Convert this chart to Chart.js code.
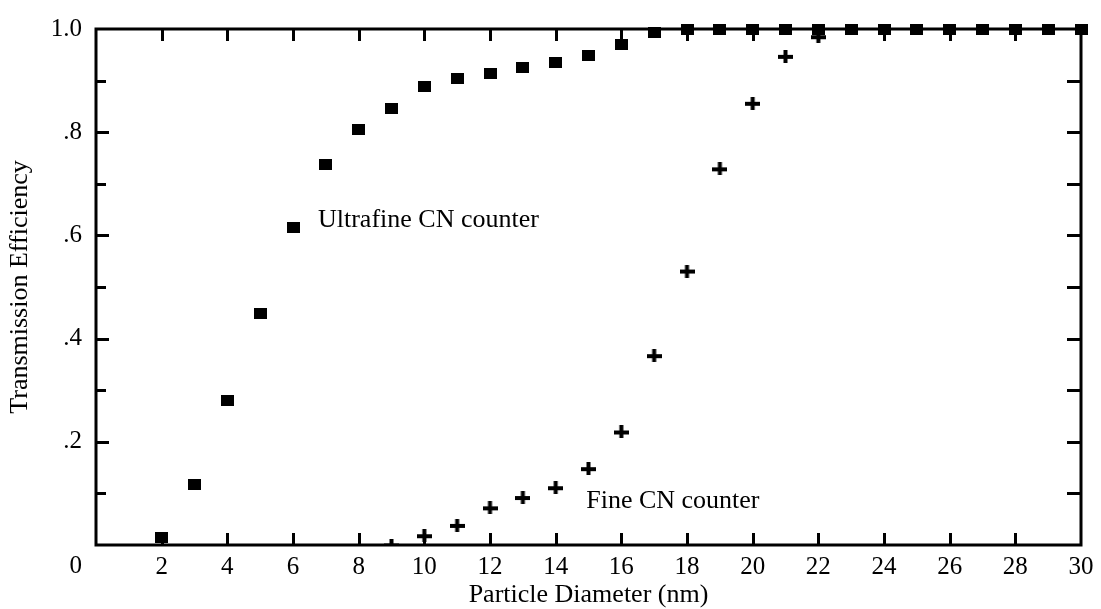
<!DOCTYPE html>
<html>
<head>
<meta charset="utf-8">
<title>Transmission Efficiency vs Particle Diameter</title>
<script src="https://cdn.jsdelivr.net/npm/chart.js@4/dist/chart.umd.min.js"></script>
<style>
  html, body { margin: 0; padding: 0; background: #fff; }
  #wrap { width: 1101px; height: 609px; }
</style>
</head>
<body>
<div id="wrap"><canvas id="chart" width="1101" height="609"></canvas></div>
<script>
// Particle diameters (nm) and measured transmission efficiency
const ultrafineDiameters = [2, 3, 4, 5, 6, 7, 8, 9, 10, 11, 12, 13, 14, 15, 16, 17, 18, 19, 20, 21, 22, 23, 24, 25, 26, 27, 28, 29, 30];
const ultrafineEfficiency = [0.015, 0.117, 0.280, 0.448, 0.616, 0.737, 0.806, 0.845, 0.889, 0.904, 0.914, 0.926, 0.935, 0.949, 0.970, 0.994, 1.0, 1.0, 1.0, 1.0, 1.0, 1.0, 1.0, 1.0, 1.0, 1.0, 1.0, 1.0, 1.0];

const fineDiameters = [9, 10, 11, 12, 13, 14, 15, 16, 17, 18, 19, 20, 21, 22];
const fineEfficiency = [0.0, 0.018, 0.038, 0.072, 0.092, 0.111, 0.148, 0.219, 0.367, 0.531, 0.729, 0.856, 0.947, 0.985];

// Axis tick labels
const xTickLabels = ['', '2', '4', '6', '8', '10', '12', '14', '16', '18', '20', '22', '24', '26', '28', '30'];
const yTickLabels = ['', '.2', '.4', '.6', '.8', '1.0'];
const cornerLabel = '0';
const xTickMarks = [2, 4, 6, 8, 10, 12, 14, 16, 18, 20, 22, 24, 26, 28];
const yTickMarks = [0.1, 0.2, 0.3, 0.4, 0.5, 0.6, 0.7, 0.8, 0.9];
const yMajorMarks = [0.2, 0.4, 0.6, 0.8];

// Curve annotations: [text, diameter, efficiency at baseline]
const annotations = [
  ['Ultrafine CN counter', 6.76, 0.616],
  ['Fine CN counter', 14.93, 0.072]
];

const SERIF = "'Liberation Serif', 'Times New Roman', serif";

// Marker glyphs
function squareGlyph() {
  const c = document.createElement('canvas');
  c.width = 13; c.height = 11;
  const g = c.getContext('2d');
  g.fillStyle = '#000';
  g.fillRect(0, 0, 13, 11);
  return c;
}
function plusGlyph() {
  const c = document.createElement('canvas');
  c.width = 15; c.height = 13;
  const g = c.getContext('2d');
  g.fillStyle = '#000';
  g.fillRect(0, 5, 15, 4);
  g.fillRect(5.5, 0, 4, 13);
  return c;
}

// Box frame with inward ticks, drawn beneath the markers
const framePlugin = {
  id: 'frame',
  beforeDatasetsDraw(chart) {
    const { ctx, chartArea: a, scales: { x, y } } = chart;
    ctx.save();
    ctx.strokeStyle = '#000';
    ctx.lineWidth = 3;
    ctx.lineCap = 'butt';
    ctx.beginPath();
    ctx.rect(a.left, a.top, a.right - a.left, a.bottom - a.top);
    ctx.stroke();
    ctx.beginPath();
    xTickMarks.forEach(v => {
      const px = Math.round(x.getPixelForValue(v)) + 0.5;
      ctx.moveTo(px, a.bottom); ctx.lineTo(px, a.bottom - 12);
      ctx.moveTo(px, a.top); ctx.lineTo(px, a.top + 12);
    });
    yTickMarks.forEach(v => {
      const py = Math.round(y.getPixelForValue(v)) + 0.5;
      const len = yMajorMarks.some(m => Math.abs(m - v) < 1e-9) ? 13 : 10;
      ctx.moveTo(a.left, py); ctx.lineTo(a.left + len, py);
      ctx.moveTo(a.right, py); ctx.lineTo(a.right - 14, py);
    });
    ctx.stroke();
    ctx.restore();
  },
  afterDatasetsDraw(chart) {
    const { ctx, chartArea: a, scales: { x, y } } = chart;
    ctx.save();
    ctx.fillStyle = '#000';
    ctx.font = '26px ' + SERIF;
    ctx.textBaseline = 'alphabetic';
    ctx.textAlign = 'left';
    annotations.forEach(([t, dx, dy]) => {
      ctx.fillText(t, x.getPixelForValue(dx), y.getPixelForValue(dy));
    });
    // shared origin label at the lower-left corner
    ctx.font = '25px ' + SERIF;
    ctx.textAlign = 'right';
    ctx.textBaseline = 'middle';
    ctx.fillText(cornerLabel, a.left - 14, a.bottom + 21);
    ctx.restore();
  }
};

new Chart(document.getElementById('chart'), {
  type: 'scatter',
  data: {
    datasets: [
      {
        label: 'Ultrafine CN counter',
        data: ultrafineDiameters.map((d, i) => ({ x: d, y: ultrafineEfficiency[i] })),
        pointStyle: squareGlyph(),
        pointRadius: 6,
        pointHoverRadius: 6,
        showLine: false,
        clip: false,
        order: 1
      },
      {
        label: 'Fine CN counter',
        data: fineDiameters.map((d, i) => ({ x: d, y: fineEfficiency[i] })),
        pointStyle: plusGlyph(),
        pointRadius: 6,
        pointHoverRadius: 6,
        showLine: false,
        clip: { left: false, top: false, right: false, bottom: 0 },
        order: 2
      }
    ]
  },
  options: {
    responsive: false,
    devicePixelRatio: 1,
    animation: false,
    events: [],
    layout: { autoPadding: false, padding: { top: 25, right: 20, left: 0, bottom: 0 } },
    plugins: {
      legend: { display: false },
      tooltip: { enabled: false }
    },
    scales: {
      x: {
        type: 'linear',
        min: 0, max: 30,
        grid: { display: false, drawTicks: false },
        border: { display: false },
        ticks: {
          stepSize: 2,
          autoSkip: false,
          maxRotation: 0,
          padding: 7,
          color: '#000',
          font: { family: SERIF, size: 25 },
          callback: (v, i) => xTickLabels[i]
        },
        title: {
          display: true,
          text: 'Particle Diameter (nm)',
          color: '#000',
          font: { family: SERIF, size: 26, lineHeight: 1 },
          padding: { top: 0, bottom: 1 }
        },
        afterFit(s) { s.height = 64; }
      },
      y: {
        type: 'linear',
        min: 0, max: 1,
        grid: { display: false, drawTicks: false },
        border: { display: false },
        ticks: {
          stepSize: 0.2,
          autoSkip: false,
          padding: 14,
          color: '#000',
          font: { family: SERIF, size: 25 },
          callback: (v, i) => yTickLabels[i]
        },
        title: {
          display: true,
          text: 'Transmission Efficiency',
          color: '#000',
          font: { family: SERIF, size: 26 },
          padding: { top: 5, bottom: 0 }
        },
        afterFit(s) { s.width = 96; }
      }
    }
  },
  plugins: [framePlugin]
});
</script>
</body>
</html>
